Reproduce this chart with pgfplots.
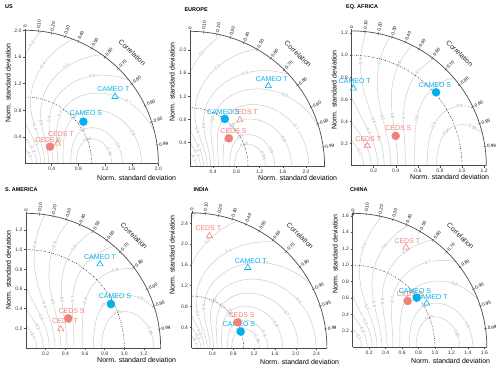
\documentclass[border=0pt]{standalone}
\usepackage{fontspec}
\setmainfont{Liberation Sans}
\usepackage{pgfplots}
\pgfplotsset{compat=1.18}
\definecolor{ceds}{RGB}{242,128,122}
\definecolor{cameo}{RGB}{0,176,240}
\definecolor{contour}{RGB}{205,205,205}
\definecolor{clab}{RGB}{165,165,165}
\newcommand{\fs}[1]{\fontsize{#1}{#1}\selectfont}

\newcommand{\ContourPiece}[2]{%
  \draw[contour, line width=0.5pt] plot[domain=#1:#2, samples=40, variable=\t, smooth]
   ({exp(\Pa*sin(\t))*(2*\Pq*cosh(\Pa*sin(\t))-1)},
    {exp(\Pa*sin(\t))*sqrt(max(0,1-(2*\Pq*cosh(\Pa*sin(\t))-1)*(2*\Pq*cosh(\Pa*sin(\t))-1)))});
}
\newcommand{\ContourLabel}[1]{%
  \pgfmathsetmacro\Tl{#1}%
  \pgfmathsetmacro\Ua{\Pa*sin(\Tl)}%
  \pgfmathsetmacro\Ub{\Pa*sin(\Tl+2)}%
  \pgfmathsetmacro\Ra{2*\Pq*cosh(\Ua)-1}%
  \pgfmathsetmacro\Rb{2*\Pq*cosh(\Ub)-1}%
  \pgfmathsetmacro\Xa{exp(\Ua)*(\Ra)}%
  \pgfmathsetmacro\Ya{exp(\Ua)*sqrt(max(0,1-(\Ra)*(\Ra)))}%
  \pgfmathsetmacro\Xb{exp(\Ub)*(\Rb)}%
  \pgfmathsetmacro\Yb{exp(\Ub)*sqrt(max(0,1-(\Rb)*(\Rb)))}%
  \pgfmathsetmacro\Ang{atan2((\Yb)-(\Ya),(\Xb)-(\Xa))}%
  \pgfmathsetmacro\Ang{\Ang>90?\Ang-180:(\Ang<-90?\Ang+180:\Ang)}%
  \node[font=\fs{4.3}, text=clab, fill=white, inner sep=0.1pt, rotate=\Ang] at (\Xa,\Ya) {\Lev};
}
\newcommand{\TaylorGrid}[2]{% #1 Rmax, #2 px per unit
  \pgfmathsetmacro\TRm{#1}%
  \pgfmathsetmacro\Tdd{1.6/#2}%
  \pgfmathsetmacro\TlnR{ln(\TRm)}%
  \foreach \Lev in {0.1,0.2,0.3,0.4,0.5,0.6,0.7,0.8,0.9,0.95}{%
    \pgfmathsetmacro\Pq{exp(ln(\Lev)*2/3)}%
    \pgfmathsetmacro\Piq{1/\Pq}%
    \pgfmathsetmacro\Pa{ln(\Piq+sqrt(\Piq*\Piq-1))}%
    \pgfmathsetmacro\Pb{min(\Pa,\TlnR)}%
    \pgfmathsetmacro\Ptb{asin(min(1,\Pb/\Pa))}%
    \ifdim\Pq pt<0.5pt
      \pgfmathsetmacro\Pm{0.5*\Piq}%
      \pgfmathsetmacro\Pc{ln(\Pm+sqrt(\Pm*\Pm-1))}%
      \pgfmathsetmacro\Ptc{asin(min(1,\Pc/\Pa))}%
      \ContourPiece{-90}{-\Ptc}%
      \ContourLabel{-90+0.6*(90-\Ptc)}%
      \ifdim\Pc pt<\Pb pt
        \ContourPiece{\Ptc}{\Ptb}%
        \ContourLabel{(\Ptc+\Ptb)/2}%
      \fi
    \else
      \ContourPiece{-90}{\Ptb}%
      \ContourLabel{-90+0.5*(\Ptb+90)}%
      \ContourLabel{-90+0.88*(\Ptb+90)}%
    \fi
  }%
  \draw[black!85, line width=0.5pt, dash pattern=on 1.2pt off 1.3pt on 0.4pt off 1.3pt] plot[domain=0:90, samples=50, variable=\t] ({cos(\t)},{sin(\t)});
  \draw[black!70, line width=0.7pt] plot[domain=0:90, samples=90, variable=\t] ({\TRm*cos(\t)},{\TRm*sin(\t)});
  \foreach \Rv/\Lab in {0/0,0.1/0.10,0.2/0.20,0.3/0.30,0.4/0.40,0.5/0.50,0.6/0.60,0.7/0.70,0.8/0.80,0.9/0.90,0.95/0.95,0.99/0.99}{%
    \pgfmathsetmacro\Th{acos(\Rv)}%
    \draw[black!70, line width=0.4pt] ({(\TRm-\Tdd)*cos(\Th)},{(\TRm-\Tdd)*sin(\Th)}) -- ({(\TRm+\Tdd)*cos(\Th)},{(\TRm+\Tdd)*sin(\Th)});
    \node[anchor=west, rotate=\Th, font=\fs{4.5}, inner sep=0.5pt] at ({(\TRm+\Tdd)*cos(\Th)},{(\TRm+\Tdd)*sin(\Th)}) {\Lab};
  }%
  \pgfmathsetmacro\Trc{\TRm+21/#2}%
  \node[rotate=-44, font=\fs{7}, text=black!85] at ({\Trc*cos(46)},{\Trc*sin(46)}) {Correlation};
}

\pgfplotsset{taylor/.style={
  anchor=south west, xmin=0, ymin=0, clip=false,
  axis x line*=bottom, axis y line*=left,
  axis line style={black!70, line width=0.6pt, -},
  tick align=outside, major tick length=2pt,
  tick style={black!70, line width=0.4pt},
  tick label style={font=\fs{5}, text=black!80},
  xticklabel style={inner sep=1.5pt}, yticklabel style={inner sep=1.5pt},
  /pgf/number format/fixed, /pgf/number format/fixed zerofill,
  /pgf/number format/precision=1, /pgf/number format/assume math mode=true,
}}
\newcommand{\SPt}[6]{%
  \addplot[only marks, mark=*, mark size=4pt, color=#1] coordinates {(#2,#3)};
  \node[font=\fs{7}, text=#1, inner sep=0pt] at (axis cs:#4,#5) {#6};
}
\newcommand{\TPt}[6]{%
  \addplot[only marks, mark=triangle, mark size=3.6pt, mark options={line width=0.6pt}, color=#1] coordinates {(#2,#3)};
  \node[font=\fs{7}, text=#1, inner sep=0pt] at (axis cs:#4,#5) {#6};
}

\begin{document}
\begin{tikzpicture}
\useasboundingbox (0,0) rectangle (500pt,369pt);

% ---------- grids ----------
\begin{scope}[shift={(25pt,205.3pt)}, x=66.7pt, y=66.7pt]\TaylorGrid{2.0}{66.7}\end{scope}
\begin{scope}[shift={(190pt,203.1pt)}, x=58pt, y=58pt]\TaylorGrid{2.32}{58}\end{scope}
\begin{scope}[shift={(351.5pt,203.3pt)}, x=110.5pt, y=110.5pt]\TaylorGrid{1.22}{110.5}\end{scope}
\begin{scope}[shift={(26pt,21pt)}, x=98.3pt, y=98.3pt]\TaylorGrid{1.37}{98.3}\end{scope}
\begin{scope}[shift={(191.7pt,20.9pt)}, x=52pt, y=52pt]\TaylorGrid{2.6}{52}\end{scope}
\begin{scope}[shift={(352.7pt,21.5pt)}, x=82.3pt, y=82.3pt]\TaylorGrid{1.63}{82.3}\end{scope}

% ---------- US ----------
\begin{axis}[taylor, at={(25pt,205.3pt)}, x=66.7pt, y=66.7pt, xmax=2.0, ymax=2.0,
  xtick={0.4,0.8,1.2,1.6,2.0}, ytick={0.4,0.8,1.2,1.6,2.0}]
\TPt{ceds}{0.485}{0.305}{0.54}{0.445}{CEDS T}
\SPt{ceds}{0.375}{0.255}{0.35}{0.36}{CEDS S}
\SPt{cameo}{0.875}{0.63}{0.915}{0.755}{CAMEO S}
\TPt{cameo}{1.35}{1.005}{1.325}{1.12}{CAMEO T}
\end{axis}

% ---------- EUROPE ----------
\begin{axis}[taylor, at={(190pt,203.1pt)}, x=58pt, y=58pt, xmax=2.32, ymax=2.32,
  xtick={0.4,0.8,1.2,1.6,2.0}, ytick={0.4,0.8,1.2,1.6,2.0}]
\TPt{cameo}{1.35}{1.38}{1.41}{1.50}{CAMEO T}
\TPt{ceds}{0.86}{0.79}{0.95}{0.92}{CEDS T}
\SPt{ceds}{0.67}{0.475}{0.75}{0.60}{CEDS S}
\SPt{cameo}{0.60}{0.81}{0.575}{0.935}{CAMEO S}
\end{axis}

% ---------- EQ. AFRICA ----------
\begin{axis}[taylor, at={(351.5pt,203.3pt)}, x=110.5pt, y=110.5pt, xmax=1.22, ymax=1.22,
  xtick={0.2,0.4,0.6,0.8,1.0,1.2}, ytick={0.2,0.4,0.6,0.8,1.0,1.2}]
\TPt{cameo}{0.017}{0.70}{0.03}{0.766}{CAMEO T}
\SPt{cameo}{0.765}{0.664}{0.755}{0.73}{CAMEO S}
\SPt{ceds}{0.40}{0.27}{0.424}{0.344}{CEDS S}
\TPt{ceds}{0.143}{0.18}{0.152}{0.238}{CEDS T}
\end{axis}

% ---------- S. AMERICA ----------
\begin{axis}[taylor, at={(26pt,21pt)}, x=98.3pt, y=98.3pt, xmax=1.37, ymax=1.37,
  xtick={0.2,0.4,0.6,0.8,1.0,1.2}, ytick={0.2,0.4,0.6,0.8,1.0,1.2}]
\TPt{cameo}{0.753}{0.854}{0.753}{0.929}{CAMEO T}
\SPt{cameo}{0.864}{0.447}{0.905}{0.529}{CAMEO S}
\TPt{ceds}{0.353}{0.193}{0.397}{0.27}{CEDS T}
\SPt{ceds}{0.43}{0.302}{0.464}{0.38}{CEDS S}
\end{axis}

% ---------- INDIA ----------
\begin{axis}[taylor, at={(191.7pt,20.9pt)}, x=52pt, y=52pt, xmax=2.6, ymax=2.6,
  xtick={0.4,0.8,1.2,1.6,2.0,2.4}, ytick={0.4,0.8,1.2,1.6,2.0,2.4}]
\TPt{ceds}{0.34}{2.157}{0.32}{2.30}{CEDS T}
\TPt{cameo}{1.077}{1.547}{1.135}{1.676}{CAMEO T}
\SPt{ceds}{0.885}{0.496}{0.96}{0.638}{CEDS S}
\SPt{cameo}{0.942}{0.317}{0.91}{0.458}{CAMEO S}
\end{axis}

% ---------- CHINA ----------
\begin{axis}[taylor, at={(352.7pt,21.5pt)}, x=82.3pt, y=82.3pt, xmax=1.63, ymax=1.63,
  xtick={0.2,0.4,0.6,0.8,1.0,1.2,1.4,1.6}, ytick={0.2,0.4,0.6,0.8,1.0,1.2,1.4,1.6}]
\TPt{ceds}{0.648}{1.217}{0.664}{1.293}{CEDS T}
\SPt{ceds}{0.668}{0.565}{0.696}{0.645}{CEDS S}
\SPt{cameo}{0.777}{0.605}{0.757}{0.686}{CAMEO S}
\TPt{cameo}{0.899}{0.536}{0.96}{0.609}{CAMEO T}
\end{axis}

% ---------- titles and labels ----------
\begin{scope}[every node/.style={inner sep=0pt}]
\node[anchor=west, font=\fs{5.5}\bfseries] at (5pt,362pt) {US};
\node[anchor=west, font=\fs{5.5}\bfseries] at (184.3pt,359.7pt) {EUROPE};
\node[anchor=west, font=\fs{5.5}\bfseries] at (346pt,361.7pt) {EQ. AFRICA};
\node[anchor=west, font=\fs{5.5}\bfseries] at (5pt,179pt) {S. AMERICA};
\node[anchor=west, font=\fs{5.5}\bfseries] at (193.3pt,179pt) {INDIA};
\node[anchor=west, font=\fs{5.5}\bfseries] at (350pt,179pt) {CHINA};
\foreach \X/\Y in {97/191, 258/191, 410/192, 97/9, 260/7, 411/8}
  \node[anchor=west, font=\fs{7}] at (\X pt,\Y pt) {Norm. standard deviation};
\foreach \X/\Y in {8/286, 172/287, 334/279, 8.3/99, 172/114, 335/115}
  \node[rotate=90, font=\fs{7}] at (\X pt,\Y pt) {Norm. standard deviation};
\end{scope}
\end{tikzpicture}
\end{document}
